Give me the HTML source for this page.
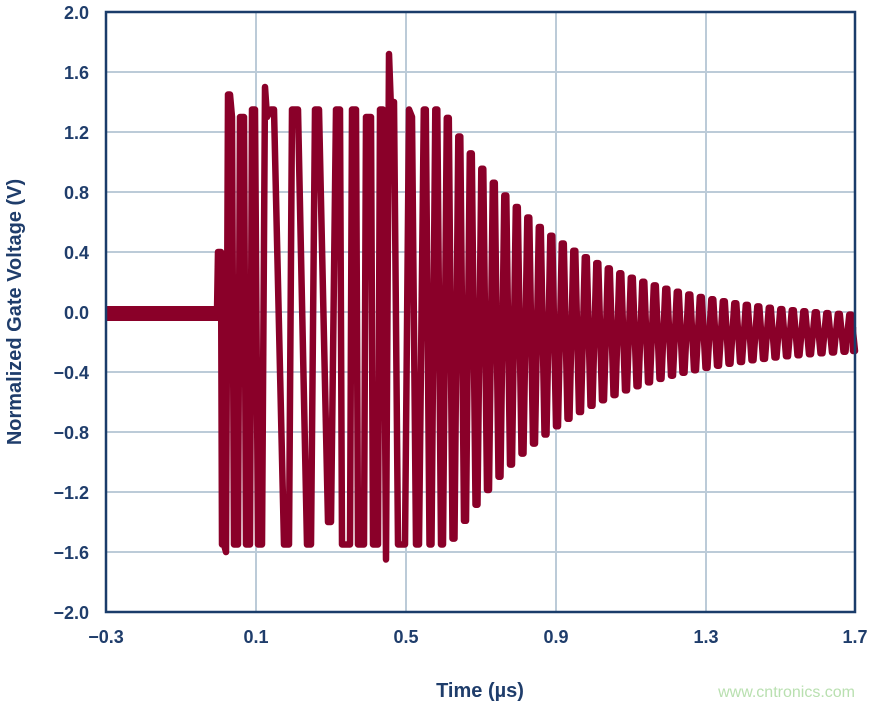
<!DOCTYPE html>
<html><head><meta charset="utf-8"><style>
body{margin:0;background:#fff;}
svg{display:block;font-family:"Liberation Sans",Arial,sans-serif;}
</style></head><body>
<svg id="s" width="874" height="708" viewBox="0 0 874 708" xmlns="http://www.w3.org/2000/svg">
<g stroke="#bccbd8" stroke-width="2">
<line x1="106" y1="72" x2="855" y2="72"/><line x1="106" y1="132" x2="855" y2="132"/>
<line x1="106" y1="192" x2="855" y2="192"/><line x1="106" y1="252" x2="855" y2="252"/>
<line x1="106" y1="312" x2="855" y2="312"/><line x1="106" y1="372" x2="855" y2="372"/>
<line x1="106" y1="432" x2="855" y2="432"/><line x1="106" y1="492" x2="855" y2="492"/>
<line x1="106" y1="552" x2="855" y2="552"/>
<line x1="256" y1="12" x2="256" y2="612"/><line x1="406" y1="12" x2="406" y2="612"/>
<line x1="556" y1="12" x2="556" y2="612"/><line x1="706" y1="12" x2="706" y2="612"/>
</g>
<rect x="107" y="306" width="111" height="15" fill="#8a0029"/>
<polyline id="w" fill="none" stroke="#8a0029" stroke-width="6.5" stroke-linejoin="round" points=""/>
<rect x="106" y="12" width="749" height="600" fill="none" stroke="#1a3c6a" stroke-width="2.5"/>
<g fill="#1f3d6b" font-weight="bold" font-size="18" text-anchor="end">
<text x="89" y="19">2.0</text><text x="89" y="79">1.6</text><text x="89" y="139">1.2</text>
<text x="89" y="199">0.8</text><text x="89" y="259">0.4</text><text x="89" y="319">0.0</text>
<text x="89" y="379">−0.4</text><text x="89" y="439">−0.8</text><text x="89" y="499">−1.2</text>
<text x="89" y="559">−1.6</text><text x="89" y="619">−2.0</text>
</g>
<g fill="#1f3d6b" font-weight="bold" font-size="18" text-anchor="middle">
<text x="106" y="643">−0.3</text><text x="256" y="643">0.1</text><text x="406" y="643">0.5</text>
<text x="556" y="643">0.9</text><text x="706" y="643">1.3</text><text x="855" y="643">1.7</text>
<text x="480" y="697" font-size="20">Time (µs)</text>
<text transform="translate(21,312) rotate(-90)" font-size="20">Normalized Gate Voltage (V)</text>
</g>
<text x="855" y="697" text-anchor="end" fill="#b9e0b0" font-size="16">www.cntronics.com</text>
<script>
var P=[[106,0],[217,0],[218,0.4],[221,0.4],[222,-1.55],[224,-1.55],[226,-1.6],[228,1.45],[230,1.45],[232,1.3],[234,-1.55],[238,-1.55],[240,1.3],[244,1.3],[246,-1.55],[250,-1.55],[252,1.35],[255,1.35],[258,-1.55],[262,-1.55],[265,1.5],[267,1.3],[271,1.35],[274,1.35],[284,-1.55],[289,-1.55],[292,1.35],[298,1.35],[307,-1.55],[311,-1.55],[315,1.35],[319,1.35],[328,-1.4],[331,-1.4],[336,1.35],[340,1.35],[342,-1.55],[350,-1.55],[352,1.35],[356,1.35],[358,-1.55],[364,-1.55],[366,1.3],[371,1.3],[373,-1.55],[378,-1.55],[380,1.35],[383,1.35],[386,-1.65],[389,1.72],[391,1.35],[394,1.4],[398,-1.55],[405,-1.55],[409,1.35],[412,1.3],[416,-1.55],[419,-1.55]];
var x=419,up=true,per=11.5;
while(x<852){x+=per/2;var A=0.075+1.45*Math.exp(-(x-440)/120),c=-0.14;
var v=up?Math.min(1.35,c+A):Math.max(-1.55,c-A);
P.push([x-1,v]);P.push([Math.min(x+1,853),v]);up=!up;}
P.push([853,-0.1]);
document.getElementById('w').setAttribute('points',P.map(function(p){return p[0].toFixed(1)+','+(312-p[1]*150).toFixed(1)}).join(' '));
</script>
</svg>
</body></html>
